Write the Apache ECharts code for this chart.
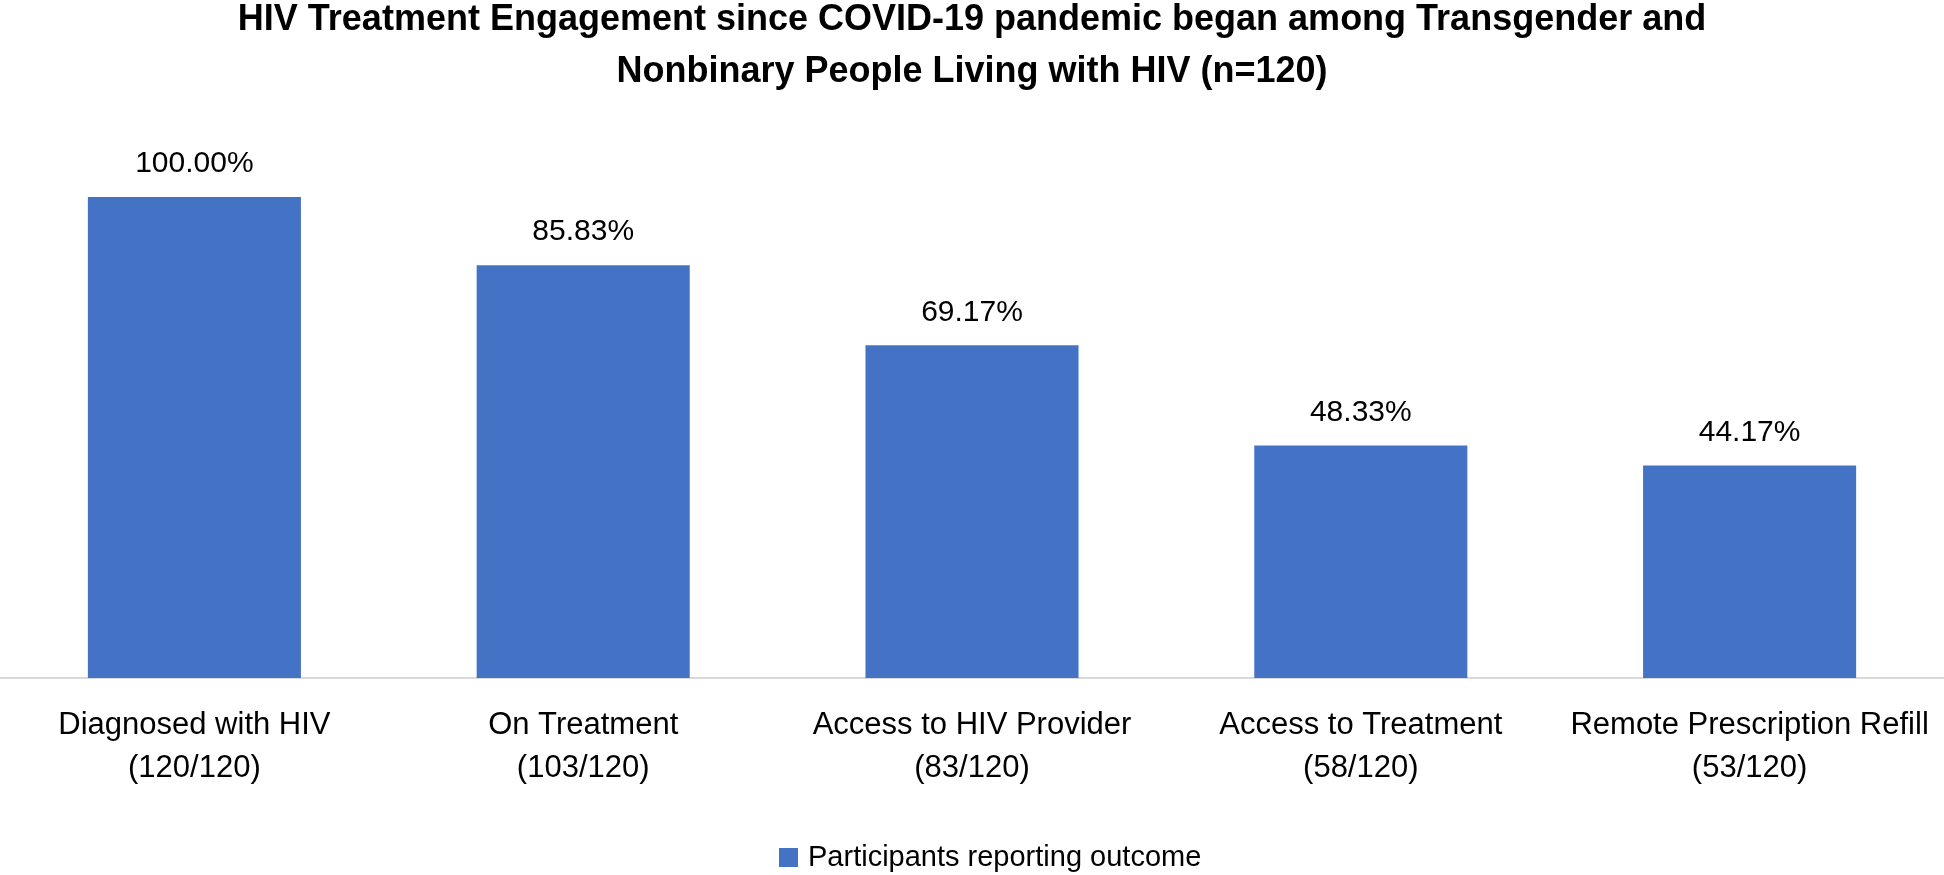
<!DOCTYPE html>
<html>
<head>
<meta charset="utf-8">
<script src="https://cdn.jsdelivr.net/npm/echarts@6/dist/echarts.min.js"></script>
<style>
html,body{margin:0;padding:0;background:#fff;}
#chart{width:1944px;height:875px;}
</style>
</head>
<body>
<div id="chart"></div>
<script>
const titleText = "HIV Treatment Engagement since COVID-19 pandemic began among Transgender and\nNonbinary People Living with HIV (n=120)";
const categories = [
  "Diagnosed with HIV\n(120/120)",
  "On Treatment\n(103/120)",
  "Access to HIV Provider\n(83/120)",
  "Access to Treatment\n(58/120)",
  "Remote Prescription Refill\n(53/120)"
];
const seriesName = "Participants reporting outcome";
const values = [100.00, 85.83, 69.17, 48.33, 44.17];

const chart = echarts.init(document.getElementById('chart'), null, {renderer: 'canvas'});
chart.setOption({
  animation: false,
  backgroundColor: '#ffffff',
  title: {
    text: titleText,
    left: 'center',
    top: -11,
    textStyle: {
      fontFamily: '"Liberation Sans Narrow", "Liberation Sans", sans-serif',
      fontWeight: 'bold',
      fontSize: 36,
      lineHeight: 52,
      color: '#000'
    }
  },
  legend: {
    bottom: -2,
    left: 774,
    itemWidth: 19,
    itemHeight: 19,
    icon: 'rect',
    itemGap: 10,
    textStyle: {
      fontFamily: '"Liberation Sans", sans-serif',
      fontSize: 29,
      color: '#000',
      padding: [0, 0, 0, 5]
    },
    data: [seriesName]
  },
  grid: {left: 0, right: 0, top: 197, bottom: 197, containLabel: false},
  xAxis: {
    type: 'category',
    data: categories,
    axisLine: {show: true, lineStyle: {color: '#d9d9d9', width: 2}},
    axisTick: {show: false},
    axisLabel: {
      interval: 0,
      margin: 26,
      fontFamily: '"Liberation Sans", sans-serif',
      fontSize: 31,
      lineHeight: 43,
      color: '#000'
    }
  },
  yAxis: {
    type: 'value',
    min: 0,
    max: 100,
    show: false,
    splitLine: {show: false}
  },
  series: [{
    name: seriesName,
    type: 'bar',
    data: values,
    barWidth: '54.8%',
    itemStyle: {color: '#4472C4'},
    label: {
      show: true,
      position: 'top',
      distance: 18,
      formatter: p => p.value.toFixed(2) + '%',
      fontFamily: '"Liberation Sans", sans-serif',
      fontSize: 30,
      color: '#000'
    }
  }]
});
</script>
</body>
</html>
